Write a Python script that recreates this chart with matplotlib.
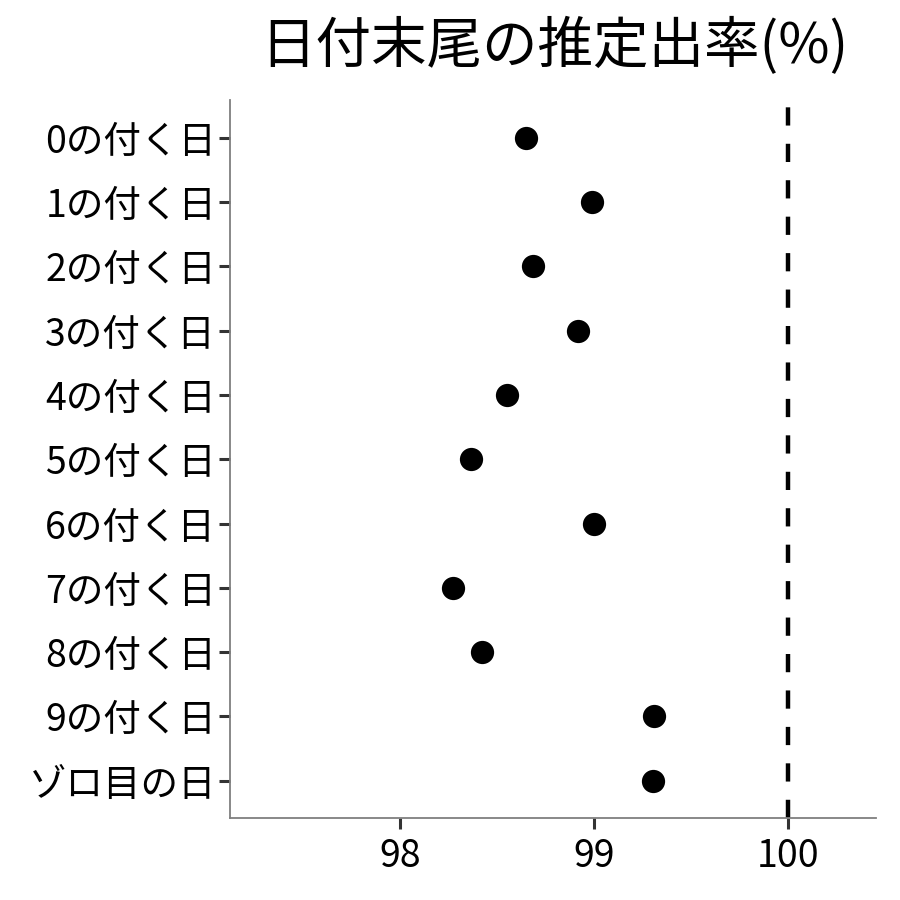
import matplotlib
matplotlib.use("Agg")
import matplotlib.pyplot as plt

plt.rcParams['font.family'] = ['Noto Sans CJK JP', 'DejaVu Sans']

categories = ["0の付く日", "1の付く日", "2の付く日", "3の付く日", "4の付く日",
              "5の付く日", "6の付く日", "7の付く日", "8の付く日", "9の付く日", "ゾロ目の日"]
values = [98.65, 98.99, 98.686, 98.918, 98.552, 98.366, 99.0, 98.273, 98.423, 99.309, 99.304]
xticks = [98, 99, 100]
title = "日付末尾の推定出率(%)"

fig = plt.figure(figsize=(9, 9), dpi=100)
ax = fig.add_axes([0.2556, 0.0911, 0.7178, 0.7978])

ypos = list(range(len(categories)))
ax.scatter(values, ypos, s=280, color='black', zorder=3, linewidths=0)
ax.axvline(100, color='black', linestyle=(0, (4.1, 4.1)), linewidth=3.2, zorder=2)

ax.set_xlim(97.124, 100.454)
ax.set_ylim(len(categories) - 0.42, -0.59)
ax.set_yticks(ypos)
ax.set_yticklabels(categories)
ax.set_xticks(xticks)
ax.set_xticklabels([str(t) for t in xticks])

for side in ['top', 'right']:
    ax.spines[side].set_visible(False)
for side in ['left', 'bottom']:
    ax.spines[side].set_color('#7f7f7f')
    ax.spines[side].set_linewidth(1.3)
ax.tick_params(axis='both', colors='#333333', width=2.2, length=8, labelsize=27,
               labelcolor='black')
ax.tick_params(axis='x', pad=6)
ax.tick_params(axis='y', pad=2)

fig.text(0.6156, 0.948, title, ha='center', va='center', fontsize=40)

fig.savefig("out.png", dpi=100)
